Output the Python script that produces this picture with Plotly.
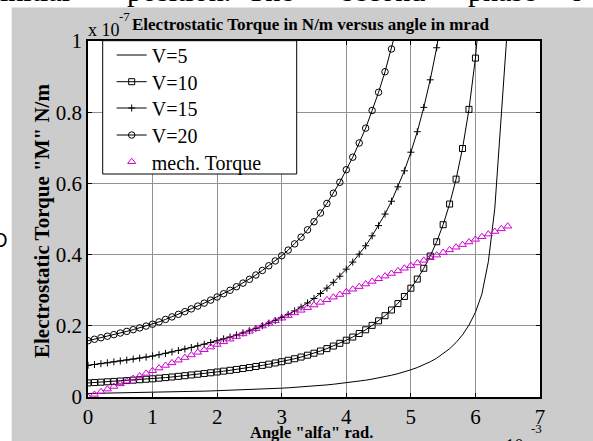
import plotly.graph_objects as go

# ---------------- data (angle in 1e-3 rad, torque in 1e-7 N/m) ----------------
alpha = [0.0, 0.1, 0.2, 0.3, 0.4, 0.5, 0.6, 0.7, 0.8, 0.9,
         1.0, 1.1, 1.2, 1.3, 1.4, 1.5, 1.6, 1.7, 1.8, 1.9,
         2.0, 2.1, 2.2, 2.3, 2.4, 2.5, 2.6, 2.7, 2.8, 2.9,
         3.0, 3.1, 3.2, 3.3, 3.4, 3.5, 3.6, 3.7, 3.8, 3.9,
         4.0, 4.1, 4.2, 4.3, 4.4, 4.5, 4.6, 4.7, 4.8, 4.9,
         5.0, 5.1, 5.2, 5.3, 5.4, 5.5, 5.6, 5.7, 5.8, 5.9,
         6.0, 6.1, 6.2, 6.3, 6.4, 6.5]

torque_v5 = [0.00988, 0.01014, 0.01040, 0.01067, 0.01095, 0.01123, 0.01152, 0.01182, 0.01213, 0.01245,
             0.01278, 0.01319, 0.01362, 0.01406, 0.01451, 0.01498, 0.01547, 0.01597, 0.01648, 0.01701,
             0.01756, 0.01814, 0.01874, 0.01936, 0.02000, 0.02066, 0.02142, 0.02221, 0.02304, 0.02389,
             0.02480, 0.02579, 0.02688, 0.02806, 0.02935, 0.03076, 0.03230, 0.03398, 0.03578, 0.03770,
             0.03990, 0.04210, 0.04460, 0.04720, 0.05030, 0.05350, 0.05710, 0.06110, 0.06560, 0.07060,
             0.07640, 0.08280, 0.09040, 0.09900, 0.10900, 0.12100, 0.13550, 0.15300, 0.17450, 0.20200,
             0.23800, 0.28900, 0.38000, 0.53000, 0.79000, 1.05000]

torque_v10 = [0.0395, 0.0406, 0.0416, 0.0427, 0.0438, 0.0449, 0.0461, 0.0473, 0.0485, 0.0498,
              0.0511, 0.0528, 0.0545, 0.0562, 0.0580, 0.0599, 0.0619, 0.0639, 0.0659, 0.0680,
              0.0702, 0.0726, 0.0750, 0.0774, 0.0800, 0.0826, 0.0857, 0.0888, 0.0922, 0.0956,
              0.0992, 0.1032, 0.1075, 0.1122, 0.1174, 0.1230, 0.1292, 0.1359, 0.1431, 0.1508,
              0.1596, 0.1684, 0.1784, 0.1888, 0.2012, 0.2140, 0.2284, 0.2444, 0.2624, 0.2824,
              0.3056, 0.3312, 0.3616, 0.3960, 0.4360, 0.4840, 0.5420, 0.6120, 0.6980, 0.8080,
              0.9520, 1.1560, 1.5200, 2.1200, 3.1600, 4.2000]

torque_v15 = [0.0889, 0.0913, 0.0936, 0.0960, 0.0986, 0.1011, 0.1037, 0.1064, 0.1092, 0.1121,
              0.1150, 0.1187, 0.1226, 0.1265, 0.1306, 0.1348, 0.1392, 0.1437, 0.1483, 0.1531,
              0.1580, 0.1633, 0.1687, 0.1742, 0.1800, 0.1859, 0.1928, 0.1999, 0.2074, 0.2150,
              0.2232, 0.2321, 0.2419, 0.2525, 0.2642, 0.2768, 0.2907, 0.3058, 0.3220, 0.3393,
              0.3591, 0.3789, 0.4014, 0.4248, 0.4527, 0.4815, 0.5139, 0.5499, 0.5904, 0.6354,
              0.6876, 0.7452, 0.8136, 0.8910, 0.9810, 1.0890, 1.2195, 1.3770, 1.5705, 1.8180,
              2.1420, 2.6010, 3.4200, 4.7700, 7.1100, 9.4500]

torque_v20 = [0.1581, 0.1622, 0.1664, 0.1707, 0.1752, 0.1797, 0.1843, 0.1891, 0.1941, 0.1992,
              0.2045, 0.2110, 0.2179, 0.2250, 0.2322, 0.2397, 0.2475, 0.2555, 0.2637, 0.2722,
              0.2810, 0.2902, 0.2998, 0.3098, 0.3200, 0.3306, 0.3427, 0.3554, 0.3686, 0.3822,
              0.3968, 0.4126, 0.4301, 0.4490, 0.4696, 0.4922, 0.5168, 0.5437, 0.5725, 0.6032,
              0.6384, 0.6736, 0.7136, 0.7552, 0.8048, 0.8560, 0.9136, 0.9776, 1.0496, 1.1296,
              1.2224, 1.3248, 1.4464, 1.5840, 1.7440, 1.9360, 2.1680, 2.4480, 2.7920, 3.2320,
              3.8080, 4.6240, 6.0800, 8.4800, 12.640, 16.800]

torque_mech = [0.0000, 0.0074, 0.0148, 0.0221, 0.0295, 0.0369, 0.0443, 0.0517, 0.0590, 0.0664,
               0.0738, 0.0812, 0.0886, 0.0959, 0.1033, 0.1107, 0.1181, 0.1255, 0.1328, 0.1402,
               0.1476, 0.1550, 0.1624, 0.1697, 0.1771, 0.1845, 0.1919, 0.1993, 0.2066, 0.2140,
               0.2214, 0.2288, 0.2362, 0.2435, 0.2509, 0.2583, 0.2657, 0.2731, 0.2804, 0.2878,
               0.2952, 0.3026, 0.3100, 0.3173, 0.3247, 0.3321, 0.3395, 0.3469, 0.3542, 0.3616,
               0.3690, 0.3764, 0.3838, 0.3911, 0.3985, 0.4059, 0.4133, 0.4207, 0.4280, 0.4354,
               0.4428, 0.4502, 0.4576, 0.4649, 0.4723, 0.4797]

series_names = ["V=5", "V=10", "V=15", "V=20", "mech. Torque"]
x_ticks = [0, 1, 2, 3, 4, 5, 6, 7]
y_ticks = [0, 0.2, 0.4, 0.6, 0.8, 1.0]
y_tick_text = ["0", "0.2", "0.4", "0.6", "0.8", "1"]

# ---------------- layout geometry ----------------
W, H = 593, 441
L, R, T, B = 88, 53, 41, 44
PW, PH = W - L - R, H - T - B
SERIF = "Liberation Serif"


def px(x):
    return (x - L) / PW


def py(y):
    return (T + PH - y) / PH


fig = go.Figure()

fig.add_trace(go.Scatter(x=alpha, y=torque_v5, name=series_names[0], mode="lines",
                         line=dict(color="black", width=1), legend="legend"))
fig.add_trace(go.Scatter(x=alpha, y=torque_v10, name=series_names[1], mode="lines+markers",
                         line=dict(color="black", width=1),
                         marker=dict(symbol="square-open", size=6, color="black", line=dict(width=1)),
                         legend="legend2"))
fig.add_trace(go.Scatter(x=alpha, y=torque_v15, name=series_names[2], mode="lines+markers",
                         line=dict(color="black", width=1),
                         marker=dict(symbol="cross-thin-open", size=5, color="black", line=dict(width=1, color="black")),
                         legend="legend3"))
fig.add_trace(go.Scatter(x=alpha, y=torque_v20, name=series_names[3], mode="lines+markers",
                         line=dict(color="black", width=1),
                         marker=dict(symbol="circle-open", size=6.5, color="black", line=dict(width=1)),
                         legend="legend4"))
fig.add_trace(go.Scatter(x=alpha, y=torque_mech, name=series_names[4], mode="markers",
                         marker=dict(symbol="triangle-up-open", size=7, color="#d000d0", line=dict(width=1)),
                         legend="legend5"))

row_centers = [55, 81.7, 108, 135, 161.7]
legend_keys = ["legend", "legend2", "legend3", "legend4", "legend5"]
legend_layouts = {}
for key, yc in zip(legend_keys, row_centers):
    legend_layouts[key] = dict(x=px(111.7), y=py(yc), xanchor="left", yanchor="middle",
                               bgcolor="rgba(0,0,0,0)", borderwidth=0, visible=True,
                               font=dict(family=SERIF, size=20, color="black"))

axis_common = dict(showline=True, linecolor="black", linewidth=1.5, mirror="ticks",
                   ticks="inside", ticklen=4, tickcolor="black", tickwidth=1,
                   showgrid=True, gridcolor="#929292", gridwidth=1, zeroline=False,
                   tickfont=dict(family=SERIF, size=21, color="black"))

fig.update_layout(
    width=W, height=H,
    margin=dict(l=L, r=R, t=T, b=B, pad=0),
    paper_bgcolor="#cccccc", plot_bgcolor="white",
    showlegend=True,
    xaxis=dict(range=[0, 7], tickvals=x_ticks, **axis_common),
    yaxis=dict(range=[0, 1], tickvals=y_ticks, ticktext=y_tick_text, **axis_common),
    **legend_layouts,
)

shapes = [
    # white document strips around the grey figure
    dict(type="rect", xref="paper", yref="paper", x0=px(0), x1=px(W), y0=py(7.5), y1=py(0),
         fillcolor="white", line=dict(width=0), layer="below"),
    dict(type="rect", xref="paper", yref="paper", x0=px(0), x1=px(11.7), y0=py(H), y1=py(0),
         fillcolor="white", line=dict(width=0), layer="below"),
    # legend box
    dict(type="rect", xref="paper", yref="paper", x0=px(102.7), x1=px(296.7), y0=py(174), y1=py(40.7),
         fillcolor="white", line=dict(color="black", width=1), layer="above"),
]
fig.update_layout(shapes=shapes)

ann = []
ann.append(dict(text="<b>Electrostatic Torque in N/m versus angle in mrad</b>", x=px(310), y=py(24.6),
                xanchor="center", yanchor="middle", font=dict(family=SERIF, size=17, color="black")))
ann.append(dict(text="x 10", x=px(86), y=py(30.5), xanchor="left", yanchor="middle",
                font=dict(family=SERIF, size=18, color="black")))
ann.append(dict(text="-7", x=px(117), y=py(16), xanchor="left", yanchor="middle",
                font=dict(family=SERIF, size=13, color="black")))
ann.append(dict(text="<b>Electrostatic Torque \"M\" N/m</b>", x=px(41.5), y=py(221.5), textangle=-90,
                xanchor="center", yanchor="middle", font=dict(family=SERIF, size=21, color="black")))
ann.append(dict(text="<b>Angle \"alfa\" rad.</b>", x=px(311), y=py(432),
                xanchor="center", yanchor="middle", font=dict(family=SERIF, size=16.5, color="black")))
ann.append(dict(text="x 10", x=px(490), y=py(446), xanchor="left", yanchor="middle",
                font=dict(family=SERIF, size=18, color="black")))
ann.append(dict(text="-3", x=px(529), y=py(428), xanchor="left", yanchor="middle",
                font=dict(family=SERIF, size=13, color="black")))
ann.append(dict(text="O", x=px(10), y=py(240), xanchor="right", yanchor="middle",
                font=dict(family="Liberation Sans", size=20, color="black")))
# document text above the figure (cut off by the window top)
doc_words = [("initial", 72), ("position.", 233), ("The", 296), ("second", 427), ("phase", 538), ("r", 585)]
for word, right_edge in doc_words:
    ann.append(dict(text=word, x=px(right_edge), y=py(9), xanchor="right", yanchor="bottom",
                    font=dict(family=SERIF, size=30, color="black")))
for a in ann:
    a.update(xref="paper", yref="paper", showarrow=False)
fig.update_layout(annotations=ann)

fig.write_html("out.html", config={"displayModeBar": False},
               post_script="document.body.style.margin='0px';")
